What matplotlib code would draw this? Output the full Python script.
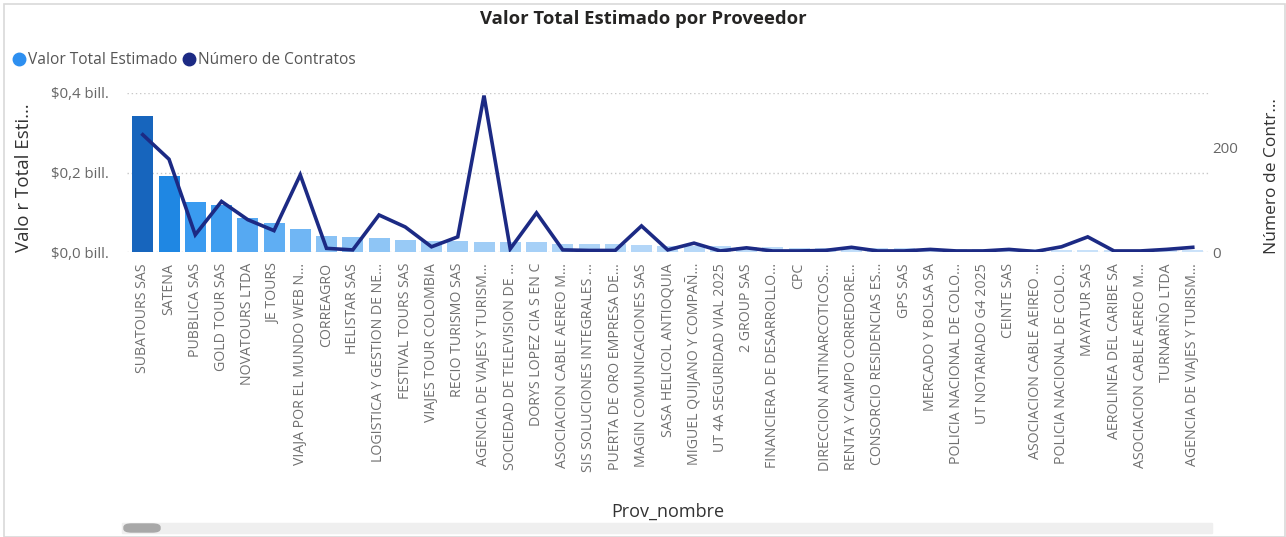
import numpy as np
import matplotlib
matplotlib.use('Agg')
import matplotlib.pyplot as plt
from matplotlib.colors import LinearSegmentedColormap
from matplotlib.patches import Rectangle, FancyBboxPatch
from matplotlib.lines import Line2D
from matplotlib.ticker import FuncFormatter

plt.rcParams['font.family'] = ['Open Sans', 'DejaVu Sans']

proveedores = [
    'SUBATOURS SAS', 'SATENA', 'PUBBLICA SAS', 'GOLD TOUR SAS', 'NOVATOURS LTDA',
    'JE TOURS', 'VIAJA POR EL MUNDO WEB N…', 'CORREAGRO', 'HELISTAR SAS',
    'LOGISTICA Y GESTION DE NE…', 'FESTIVAL TOURS SAS', 'VIAJES TOUR COLOMBIA',
    'RECIO TURISMO SAS', 'AGENCIA DE VIAJES Y TURISM…', 'SOCIEDAD DE TELEVISION DE …',
    'DORYS LOPEZ CIA S EN C', 'ASOCIACION CABLE AEREO M…', 'SIS SOLUCIONES INTEGRALES …',
    'PUERTA DE ORO EMPRESA DE…', 'MAGIN COMUNICACIONES SAS', 'SASA HELICOL ANTIOQUIA',
    'MIGUEL QUIJANO Y COMPAÑ…', 'UT 4A SEGURIDAD VIAL 2025', '2 GROUP SAS',
    'FINANCIERA DE DESARROLLO…', 'CPC', 'DIRECCION ANTINARCOTICOS…',
    'RENTA Y CAMPO CORREDORE…', 'CONSORCIO RESIDENCIAS ES…', 'GPS SAS',
    'MERCADO Y BOLSA SA', 'POLICIA NACIONAL DE COLO…', 'UT NOTARIADO G4 2025',
    'CEINTE SAS', 'ASOCIACION CABLE AEIREO …', 'POLICIA NACIONAL DE COLO…',
    'MAYATUR SAS', 'AEROLINEA DEL CARIBE SA', 'ASOCIACION CABLE AEREO M…',
    'TURNARIÑO LTDA', 'AGENCIA DE VIAJES Y TURISM…',
]

# valor total estimado, en billones
valor_total = [
    0.342, 0.191, 0.127, 0.118, 0.086, 0.073, 0.058, 0.040, 0.038, 0.035,
    0.030, 0.028, 0.027, 0.026, 0.025, 0.024, 0.021, 0.020, 0.019, 0.017,
    0.016, 0.015, 0.014, 0.013, 0.012, 0.011, 0.010, 0.010, 0.009, 0.009,
    0.008, 0.008, 0.007, 0.007, 0.007, 0.006, 0.006, 0.006, 0.005, 0.005,
    0.005,
]

num_contratos = [
    225, 178, 33, 97, 62, 41, 148, 7, 4, 71,
    48, 10, 29, 300, 6, 75, 4, 3, 3, 50,
    4, 17, 2, 8, 2, 2, 3, 9, 2, 2,
    5, 2, 2, 5, 1, 10, 29, 2, 2, 5,
    9,
]

W, H = 1286, 537
fig = plt.figure(figsize=(W / 100, H / 100), dpi=100)
fig.patch.set_facecolor('white')

x = np.arange(len(proveedores))
ax = fig.add_axes([127 / W, 1 - 252 / H, 1081.5 / W, 159 / H])
ax2 = ax.twinx()

cmap = LinearSegmentedColormap.from_list('pbi', [
    (0.0, '#d3e6fa'), (0.1, '#8fc5f5'), (0.2, '#62aff3'),
    (0.37, '#3a9bf0'), (0.56, '#1f87e3'), (1.0, '#1765bd')])
vals = np.array(valor_total)
colores = cmap(vals / vals.max())
ax.bar(x, valor_total, width=0.8, color=colores, zorder=2)

ax2.plot(x, num_contratos, color='#1c2a84', lw=2.6, zorder=3,
         solid_joinstyle='miter')

ax.set_xlim(-0.6, len(proveedores) - 0.4)
ax.set_ylim(0, 0.4)
ax2.set_ylim(0, 305)
ax.set_yticks([0, 0.2, 0.4])
ax.yaxis.set_major_formatter(FuncFormatter(
    lambda v, p: '$' + f'{v:.1f}'.replace('.', ',') + ' bill.'))
ax2.set_yticks([0, 200])

ax.grid(axis='y', color='#c8c8c8', linestyle=(0, (1, 2)), lw=1, zorder=0)
ax.set_axisbelow(True)
for a in (ax, ax2):
    for s in a.spines.values():
        s.set_visible(False)
    a.tick_params(length=0)
ax2.set_zorder(ax.get_zorder() + 1)
ax2.patch.set_visible(False)

ax.tick_params(axis='y', labelsize=10.8, labelcolor='#666666', pad=13)
ax2.tick_params(axis='y', labelsize=10.8, labelcolor='#666666', pad=3)

ax.set_xticks(x)
ax.set_xticklabels(proveedores, rotation=90, fontsize=10.2, color='#707070')
ax.tick_params(axis='x', pad=8)

ax.set_xlabel('Prov_nombre', fontsize=13, color='#333333', va='center')
ax.xaxis.set_label_coords(0.5, -1.635)
ax.set_ylabel('Valo r Total Esti…', fontsize=13.5, color='#333333',
              va='center')
ax.yaxis.set_label_coords(-0.0955, 0.47)
ax2.set_ylabel('Número de Contr…', fontsize=12.5, color='#333333',
               va='center')
ax2.yaxis.set_label_coords(1.0585, 0.48)

fig.text(643 / W, 1 - 19 / H, 'Valor Total Estimado por Proveedor',
         ha='center', va='center', fontsize=13.3, fontweight='bold',
         color='#252423')

# leyenda
handles = [
    Line2D([], [], marker='o', ls='', color='#2d8ff0', markersize=9),
    Line2D([], [], marker='o', ls='', color='#1c2a84', markersize=9),
]
fig.legend(handles, ['Valor Total Estimado', 'Número de Contratos'],
           loc='center left', bbox_to_anchor=(5 / W, 1 - 60 / H), ncol=2,
           frameon=False, fontsize=11.2, handletextpad=0.05, columnspacing=0.3,
           handlelength=1.0, labelcolor='#555555', borderaxespad=0)

# barra de desplazamiento
fig.patches.append(Rectangle((122 / W, 1 - 533 / H), 1090 / W, 10 / H,
                             transform=fig.transFigure, color='#efefef',
                             zorder=0))
fig.patches.append(FancyBboxPatch((124 / W, 1 - 532 / H), 36 / W, 8 / H,
                                  boxstyle='round,pad=0,rounding_size=0.006',
                                  transform=fig.transFigure, color='#a8a8a8',
                                  zorder=1))
# borde del visual
fig.patches.append(Rectangle((4 / W, 0), 1 - 5 / W, 1 - 4 / H,
                             transform=fig.transFigure, fill=False,
                             edgecolor='#d9d9d9', lw=1.2))

fig.savefig('out.png', dpi=100)
